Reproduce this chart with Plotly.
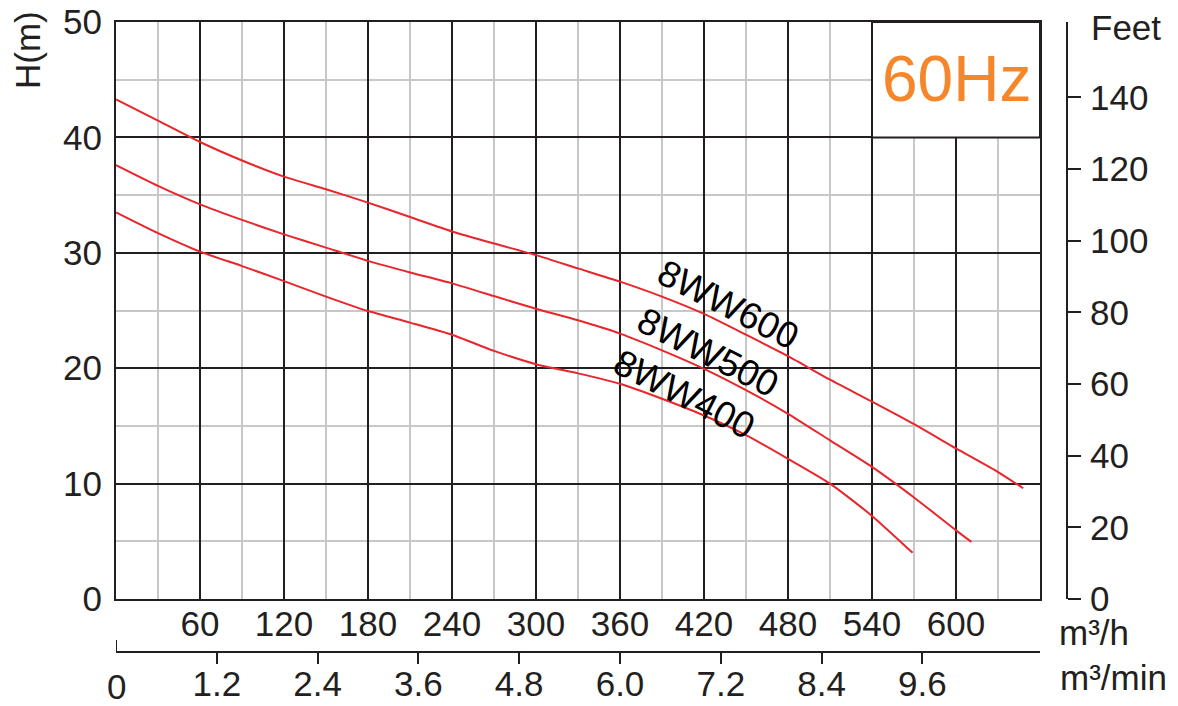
import plotly.graph_objects as go

# ---- data ----
q_600 = [0, 30, 60, 90, 120, 150, 180, 210, 240, 270, 300, 330, 360, 390, 420, 450, 480, 510, 540, 570, 600, 630, 648]
h_600 = [43.3, 41.45, 39.6, 38.0, 36.6, 35.5, 34.35, 33.1, 31.85, 30.8, 29.8, 28.65, 27.5, 26.2, 24.7, 22.9, 21.05, 19.0, 17.1, 15.15, 13.05, 11.0, 9.6]

q_500 = [0, 30, 60, 90, 120, 150, 180, 210, 240, 270, 300, 330, 360, 390, 420, 450, 480, 510, 540, 570, 600, 611]
h_500 = [37.6, 35.8, 34.2, 32.85, 31.6, 30.45, 29.3, 28.3, 27.35, 26.25, 25.15, 24.15, 23.0, 21.55, 19.95, 18.1, 16.05, 13.75, 11.45, 8.8, 5.95, 4.95]

q_400 = [0, 30, 60, 90, 120, 150, 180, 210, 240, 270, 300, 330, 360, 390, 420, 450, 480, 510, 540, 569]
h_400 = [33.5, 31.7, 30.1, 28.85, 27.55, 26.2, 24.95, 23.95, 22.9, 21.5, 20.35, 19.55, 18.65, 17.35, 15.9, 14.2, 12.15, 10.0, 7.2, 4.0]

series_names = ["8WW600", "8WW500", "8WW400"]

q_tickvals = [60, 120, 180, 240, 300, 360, 420, 480, 540, 600]
q_ticktext = [str(v) for v in q_tickvals]
min_tickvals = [1.2, 2.4, 3.6, 4.8, 6.0, 7.2, 8.4, 9.6]
min_ticktext = ["1.2", "2.4", "3.6", "4.8", "6.0", "7.2", "8.4", "9.6"]
h_tickvals = [0, 10, 20, 30, 40, 50]
ft_tickvals = [0, 20, 40, 60, 80, 100, 120, 140]

# ---- style ----
DARK = "#231f20"
LIGHT = "#c8c8c8"
RED = "#e8262b"
ORANGE = "#f5872a"
FONT = "Liberation Sans, Arial, sans-serif"
FS = 35

fig = go.Figure()
for q, h in [(q_600, h_600), (q_500, h_500), (q_400, h_400)]:
    fig.add_trace(go.Scatter(x=q, y=h, mode="lines", line=dict(color=RED, width=2, shape="spline", smoothing=0.6),
                             hoverinfo="skip", showlegend=False))

# invisible trace to activate secondary axes
fig.add_trace(go.Scatter(x=[0], y=[0], xaxis="x2", yaxis="y2", mode="markers",
                         marker=dict(opacity=0), hoverinfo="skip", showlegend=False))

XD = [0, 924 / 951]
YD = [53 / 630, 1]

fig.update_layout(
    template="none",
    width=1178, height=706,
    margin=dict(l=116, r=111, t=22, b=54),
    paper_bgcolor="white", plot_bgcolor="white",
    font=dict(family=FONT, size=FS, color=DARK),
    xaxis=dict(domain=XD, range=[0, 660], anchor="y", automargin=False,
               tickmode="array", tickvals=q_tickvals, ticktext=q_ticktext, ticks="",
               showline=True, linecolor=DARK, linewidth=2, mirror=True,
               showgrid=True, gridcolor=DARK, gridwidth=2, zeroline=False,
               ticklabelstandoff=-7,
               minor=dict(tickmode="linear", tick0=0, dtick=30, showgrid=True, gridcolor=LIGHT, gridwidth=1.5, ticks="")),
    yaxis=dict(domain=YD, range=[0, 50], anchor="x", automargin=False,
               tickmode="array", tickvals=h_tickvals, ticks="",
               showline=True, linecolor=DARK, linewidth=2, mirror=True,
               showgrid=True, gridcolor=DARK, gridwidth=2, zeroline=False,
               ticklabelstandoff=5,
               minor=dict(tickmode="linear", tick0=0, dtick=5, showgrid=True, gridcolor=LIGHT, gridwidth=1.5, ticks="")),
    xaxis2=dict(domain=XD, range=[0, 11.0], overlaying="x", anchor="free", position=0, side="bottom",
                automargin=False, tickmode="array", tickvals=min_tickvals, ticktext=min_ticktext,
                ticks="outside", ticklen=11, tickwidth=2, tickcolor=DARK,
                showline=True, linecolor=DARK, linewidth=2, showgrid=False, zeroline=False,
                ticklabelstandoff=-10),
    yaxis2=dict(domain=YD, range=[0, 161], overlaying="y", anchor="free", position=1.0, side="right",
                automargin=False, tickmode="array", tickvals=ft_tickvals,
                ticks="outside", ticklen=13, tickwidth=2, tickcolor=DARK,
                showline=True, linecolor=DARK, linewidth=2, showgrid=False, zeroline=False,
                ticklabelstandoff=2),
)

# 60Hz box
fig.add_shape(type="rect", xref="x", yref="y", x0=540, x1=660, y0=40, y1=50,
              fillcolor="white", line=dict(color=DARK, width=2), layer="above")
fig.add_annotation(xref="x", yref="y", x=600, y=45.1, text="60Hz", showarrow=False,
                   font=dict(size=64, color=ORANGE, family=FONT))

# up tick at 0 on m3/min axis
fig.add_shape(type="line", xref="x2", yref="paper", x0=0, x1=0, y0=0, y1=12 / 630,
              line=dict(color=DARK, width=2))

# curve labels
label_pos = [(437, 25.5), (423, 21.4), (406, 17.7)]
for name, (lx, ly) in zip(series_names, label_pos):
    fig.add_annotation(xref="x", yref="y", x=lx, y=ly, text=name, showarrow=False, textangle=27,
                       font=dict(size=37, color="black", family=FONT))

# axis titles / units
fig.add_annotation(xref="paper", yref="paper", x=(28 - 116) / 951, y=(652 - 50) / 630, text="H(m)",
                   textangle=-90, showarrow=False, xanchor="center", yanchor="middle")
fig.add_annotation(xref="paper", yref="paper", x=(1126 - 116) / 951, y=(652 - 28) / 630, text="Feet",
                   showarrow=False, xanchor="center", yanchor="middle")
fig.add_annotation(xref="paper", yref="paper", x=(1094 - 116) / 951, y=(652 - 632) / 630, text="m³/h",
                   showarrow=False, xanchor="center", yanchor="middle")
fig.add_annotation(xref="paper", yref="paper", x=(1113 - 116) / 951, y=(652 - 677) / 630, text="m³/min",
                   showarrow=False, xanchor="center", yanchor="middle")
fig.add_annotation(xref="x2", yref="paper", x=0, y=(652 - 686) / 630, text="0",
                   showarrow=False, xanchor="center", yanchor="middle")

fig.write_html("out.html", config={"displayModeBar": False},
               post_script="document.body.style.margin='0';document.body.style.overflow='hidden';")
